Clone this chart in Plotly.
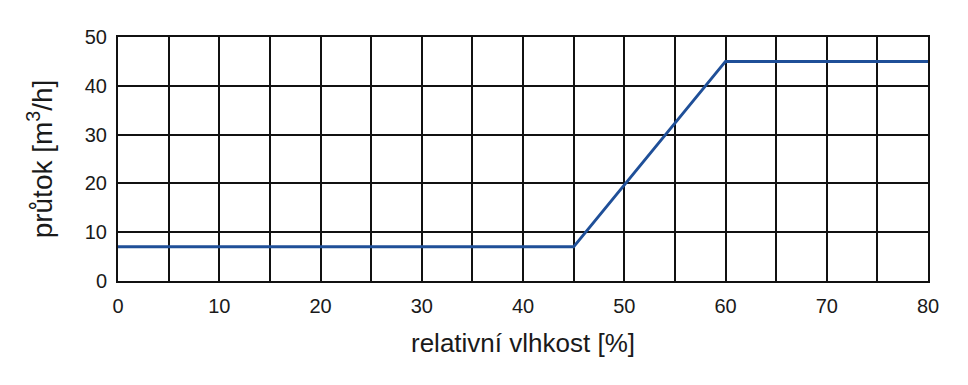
import plotly.graph_objects as go

humidity = [0, 45, 60, 80]
flow = [7, 7, 45, 45]
x_ticks = [0, 10, 20, 30, 40, 50, 60, 70, 80]
y_ticks = [0, 10, 20, 30, 40, 50]

fig = go.Figure()
fig.add_trace(go.Scatter(x=humidity, y=flow, mode="lines",
                         line=dict(color="#1f4f98", width=3), showlegend=False))

fig.update_layout(
    width=968, height=385,
    margin=dict(l=118, r=40, t=37, b=104),
    paper_bgcolor="white", plot_bgcolor="white",
    font=dict(family="Liberation Sans, Arial, sans-serif", color="#1a1a1a"),
)
fig.update_xaxes(
    range=[0, 80], tickvals=x_ticks, ticktext=[str(v) for v in x_ticks],
    showgrid=True, gridcolor="#111111", gridwidth=2,
    minor=dict(dtick=5, showgrid=True, gridcolor="#111111", gridwidth=2),
    showline=True, linecolor="#111111", linewidth=2, mirror=True,
    zeroline=False, tickfont=dict(size=20), ticks="outside", ticklen=6, tickcolor="rgba(0,0,0,0)",
    title=dict(text="relativní vlhkost [%]", font=dict(size=26), standoff=18),
)
fig.update_yaxes(
    range=[0, 50], tickvals=y_ticks,
    showgrid=True, gridcolor="#111111", gridwidth=2,
    showline=True, linecolor="#111111", linewidth=2, mirror=True,
    zeroline=False, tickfont=dict(size=20), ticks="outside", ticklen=5, tickcolor="rgba(0,0,0,0)",
    title=dict(text="průtok [m<sup>3</sup>/h]", font=dict(size=28), standoff=24),
)
fig.write_html("out.html")
